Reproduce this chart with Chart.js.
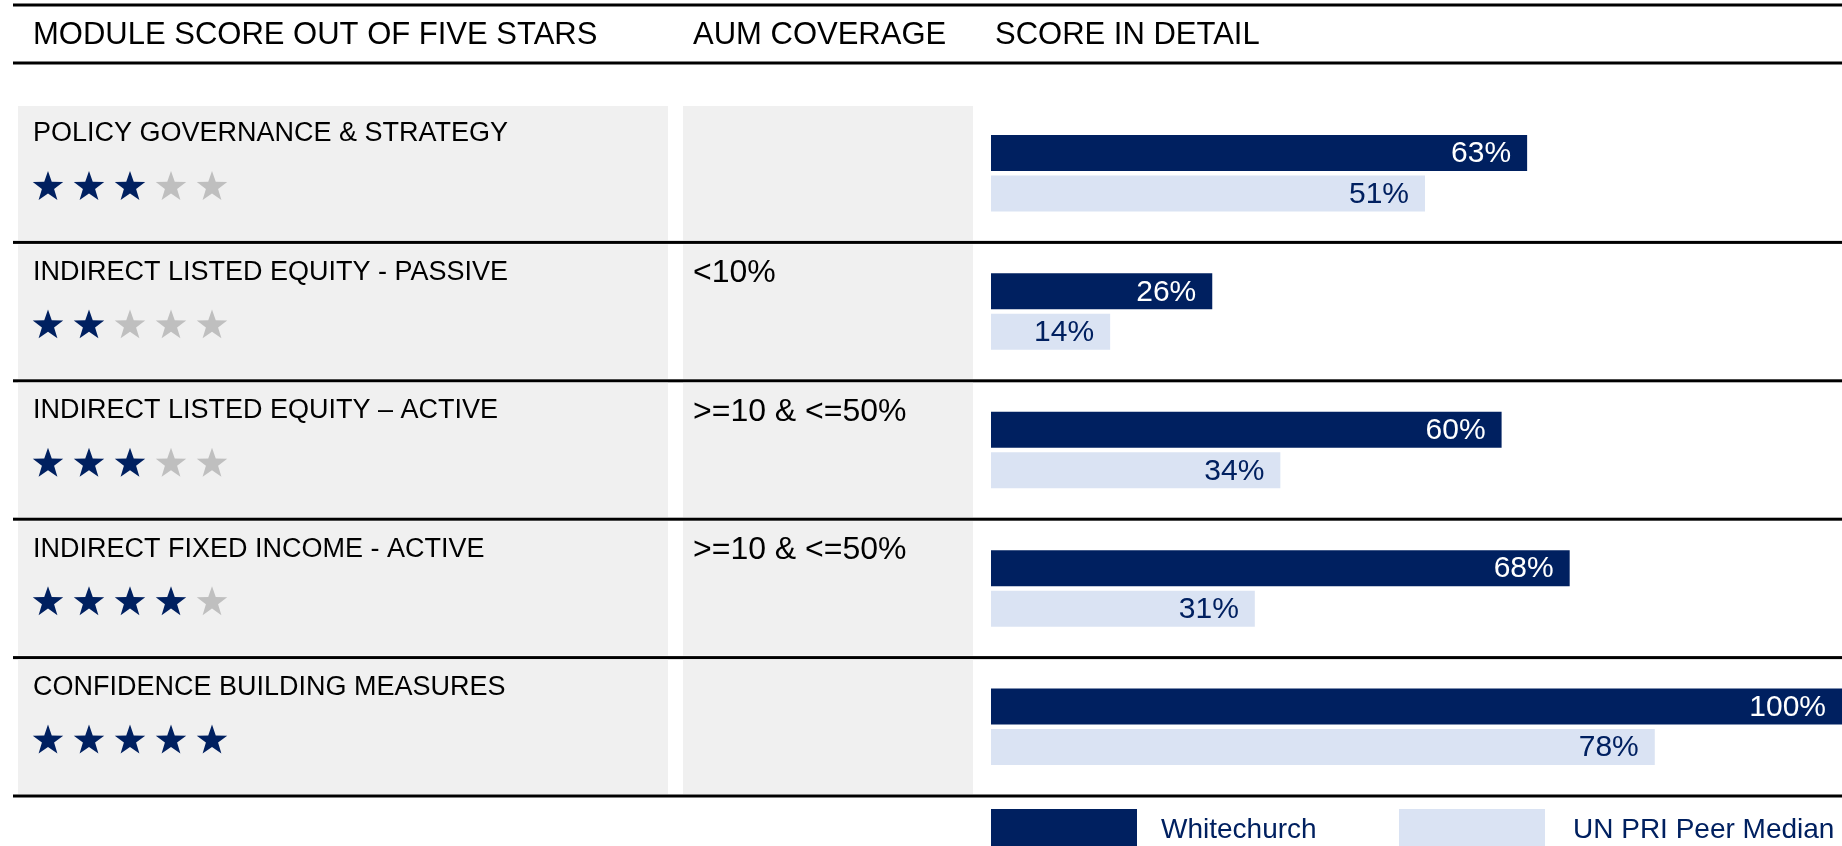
<!DOCTYPE html>
<html>
<head>
<meta charset="utf-8">
<script src="https://cdn.jsdelivr.net/npm/chart.js@4/dist/chart.umd.min.js"></script>
<style>
  html, body { margin: 0; padding: 0; background: #ffffff; overflow: hidden; }
  #chart { display: block; }
</style>
</head>
<body>
<canvas id="chart" width="1842" height="846"></canvas>
<script>
// data
var modules = ['POLICY GOVERNANCE & STRATEGY', 'INDIRECT LISTED EQUITY - PASSIVE', 'INDIRECT LISTED EQUITY \u2013 ACTIVE', 'INDIRECT FIXED INCOME - ACTIVE', 'CONFIDENCE BUILDING MEASURES']
var stars = [3, 2, 3, 4, 5]
var aumCoverage = ['', '<10%', '>=10 & <=50%', '>=10 & <=50%', '']
var whitechurch = [63, 26, 60, 68, 100]
var peerMedian = [51, 14, 34, 31, 78]
var headers = ['MODULE SCORE OUT OF FIVE STARS', 'AUM COVERAGE', 'SCORE IN DETAIL']

var NAVY = '#002060'
var LIGHT = '#dae3f3'
var GREY_STAR = '#bfbfbf'
var PANEL = '#f0f0f0'
var FONT = '"Liberation Sans", Arial, sans-serif'

function drawStar(ctx, cx, cy, r, color) {
  ctx.beginPath()
  for (var i = 0; i < 10; i++) {
    var rad = i % 2 === 0 ? r : r * 0.4
    var a = -Math.PI / 2 + i * Math.PI / 5
    var px = cx + rad * Math.cos(a)
    var py = cy + rad * Math.sin(a)
    if (i === 0) ctx.moveTo(px, py); else ctx.lineTo(px, py)
  }
  ctx.closePath()
  ctx.fillStyle = color
  ctx.fill()
}

function hline(ctx, y, w) {
  ctx.fillStyle = '#000000'
  ctx.fillRect(13, y - w / 2, 1842 - 13, w)
}

// table part: header, grey panels, labels, stars, lines, legend
var tablePlugin = {
  id: 'tablePlugin',
  beforeDatasetsDraw: function (chart) {
    var ctx = chart.ctx
    var y = chart.scales.y
    var band = (y.bottom - y.top) / modules.length
    ctx.save()
    hline(ctx, 5, 3)
    hline(ctx, 63, 3)
    ctx.font = '31px ' + FONT
    ctx.fillStyle = '#000000'
    ctx.textBaseline = 'middle'
    ctx.textAlign = 'left'
    ctx.fillText(headers[0], 33, 35)
    ctx.fillText(headers[1], 693, 35)
    ctx.fillText(headers[2], 995, 35)

    for (var i = 0; i < modules.length; i++) {
      var top = y.getPixelForValue(i) - band / 2
      var bottom = top + band
      ctx.fillStyle = PANEL
      ctx.fillRect(18, top + 2, 668 - 18, band - 4)
      ctx.fillRect(683, top + 2, 973 - 683, band - 4)
      hline(ctx, bottom, 3)

      ctx.fillStyle = '#000000'
      ctx.textBaseline = 'middle'
      ctx.font = '27px ' + FONT
      ctx.fillText(modules[i], 33, top + 30)
      ctx.font = '32px ' + FONT
      if (aumCoverage[i]) ctx.fillText(aumCoverage[i], 693, top + 31)

      for (var s = 0; s < 5; s++) {
        drawStar(ctx, 48 + s * 41, top + 83, 16, s < stars[i] ? NAVY : GREY_STAR)
      }
    }

    // legend
    var ds = chart.data.datasets
    var lx = [991, 1399]
    var tx = [1161, 1573]
    ctx.font = '28px ' + FONT
    for (var d = 0; d < ds.length; d++) {
      ctx.fillStyle = ds[d].backgroundColor
      ctx.fillRect(lx[d], 809, 146, 40)
      ctx.fillStyle = NAVY
      ctx.fillText(ds[d].label, tx[d], 830)
    }
    ctx.restore()
  },
  afterDatasetsDraw: function (chart) {
    var ctx = chart.ctx
    ctx.save()
    ctx.font = '30px ' + FONT
    ctx.textAlign = 'right'
    ctx.textBaseline = 'middle'
    chart.data.datasets.forEach(function (ds, di) {
      var meta = chart.getDatasetMeta(di)
      meta.data.forEach(function (bar, i) {
        ctx.fillStyle = di === 0 ? '#ffffff' : NAVY
        ctx.fillText(ds.data[i] + '%', bar.x - 16, bar.y + 1)
      })
    })
    ctx.restore()
  }
}

var ctx_score = document.getElementById('chart').getContext('2d')

var data_score = {
  labels: modules,
  datasets: [{
    label: 'Whitechurch',
    data: whitechurch,
    backgroundColor: NAVY,
    categoryPercentage: 0.585,
    barPercentage: 0.89
  }, {
    label: 'UN PRI Peer Median',
    data: peerMedian,
    backgroundColor: LIGHT,
    categoryPercentage: 0.585,
    barPercentage: 0.89
  }]
}

var config_score = {
  type: 'bar',
  data: data_score,
  options: {
    indexAxis: 'y',
    responsive: false,
    devicePixelRatio: 1,
    animation: false,
    layout: { padding: { left: 991, right: 0, top: 104, bottom: 50 } },
    scales: {
      x: { display: false, min: 0, max: 100 },
      y: { display: false }
    },
    plugins: {
      legend: { display: false },
      tooltip: { enabled: false }
    }
  },
  plugins: [tablePlugin]
}
var graph_score = new Chart(ctx_score, config_score)
</script>
</body>
</html>
